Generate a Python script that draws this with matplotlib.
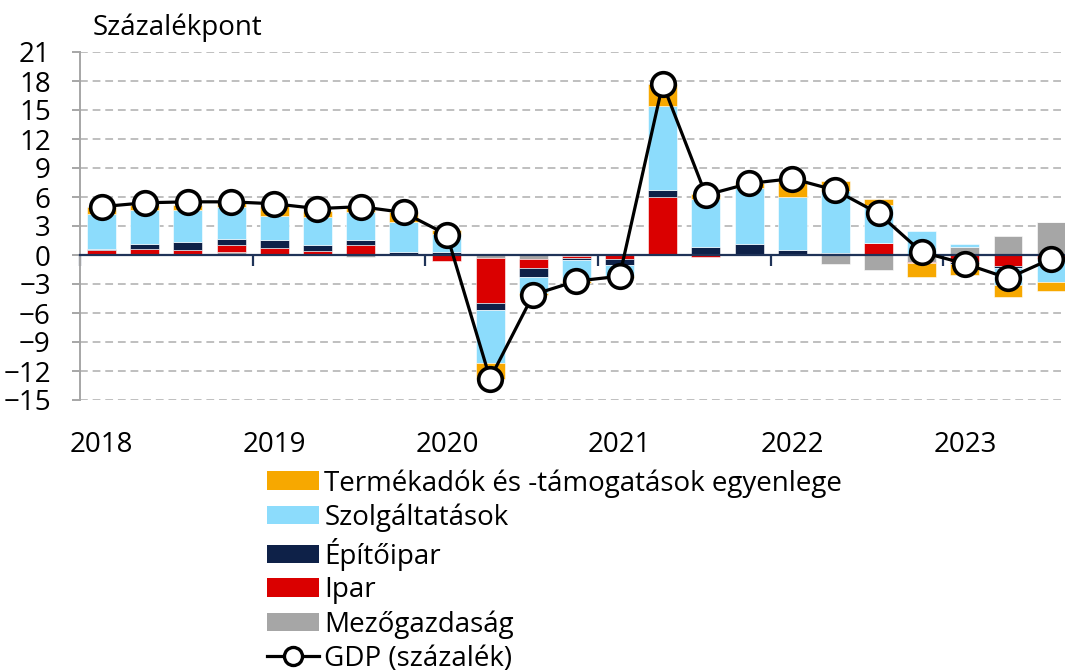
import numpy as np
import matplotlib.pyplot as plt
from matplotlib.patches import Patch
from matplotlib.lines import Line2D

plt.rcParams['font.family'] = ['Open Sans', 'DejaVu Sans']

# quarterly data, 2018 Q1 - 2023 Q3 (percentage point contributions)
years = ['2018', '2019', '2020', '2021', '2022', '2023']
agri = [0.0, 0.1, 0.1, 0.3, 0.0, 0.0, -0.25, 0.0, 0.0, -0.3, -0.4, -0.15,
        0.0, 0.0, 0.0, 0.0, 0.0, -0.9, -1.55, -0.7, 0.8, 1.95, 3.4]
industry = [0.5, 0.55, 0.45, 0.75, 0.75, 0.4, 1.05, 0.15, -0.6, -4.65, -0.95, -0.15,
            -0.4, 6.0, -0.2, 0.0, 0.15, 0.25, 1.2, -0.1, -0.75, -1.1, -0.4]
construction = [0.15, 0.45, 0.8, 0.6, 0.8, 0.65, 0.5, 0.2, 0.3, -0.7, -0.95, -0.2,
                -0.6, 0.75, 0.8, 1.1, 0.4, 0.0, 0.0, 0.0, -0.15, -0.25, 0.0]
services = [3.6, 3.55, 3.35, 3.3, 2.5, 2.85, 2.85, 3.1, 1.85, -5.5, -1.6, -2.15,
            -1.15, 8.65, 5.0, 5.85, 5.4, 6.4, 4.0, 2.45, 0.3, -1.8, -2.35]
taxes = [0.7, 0.5, 0.5, 0.5, 1.05, 0.7, 0.6, 0.95, 0.45, -1.7, -0.25, -0.25,
         -0.25, 2.3, 0.5, 0.5, 1.85, 1.05, 0.6, -1.5, -1.2, -1.15, -1.0]
gdp = [5.0, 5.4, 5.5, 5.5, 5.3, 4.8, 5.0, 4.4, 2.1, -12.8, -4.1, -2.7,
       -2.2, 17.7, 6.2, 7.4, 7.9, 6.7, 4.3, 0.3, -0.9, -2.4, -0.4]

series = [
    ('Mezőgazdaság', agri, '#A6A6A6'),
    ('Ipar', industry, '#DA0000'),
    ('Építőipar', construction, '#0E2148'),
    ('Szolgáltatások', services, '#8CDCFC'),
    ('Termékadók és -támogatások egyenlege', taxes, '#F7A800'),
]

x = np.arange(len(gdp))
fs = 20

fig = plt.figure(figsize=(10.65, 6.72), dpi=100)
ax = fig.add_axes([80 / 1065, 1 - 400 / 672, 985 / 1065, 348 / 672])

# stacked bars, positives upward and negatives downward from zero
pos_bottom = np.zeros(len(x))
neg_bottom = np.zeros(len(x))
for name, vals, color in series:
    v = np.array(vals)
    bottom = np.where(v >= 0, pos_bottom, neg_bottom)
    ax.bar(x, v, 0.67, bottom=bottom, color=color, edgecolor='white',
           linewidth=0.4, zorder=2)
    pos_bottom += np.where(v >= 0, v, 0)
    neg_bottom += np.where(v < 0, v, 0)

ax.plot(x, gdp, color='black', linewidth=2.3, marker='o', markersize=17,
        markerfacecolor='white', markeredgecolor='black', markeredgewidth=2.6,
        zorder=4)

ax.set_xlim(-0.5, 22.32)
ax.set_ylim(-15, 21)
ax.set_yticks(np.arange(-15, 22, 3))
ax.yaxis.grid(True, color='#BFBFBF', linestyle=(0, (4, 2.5)), linewidth=1.4, zorder=0)
ax.tick_params(axis='y', length=6, width=1.4, color='#A6A6A6', pad=15, labelsize=fs)

for s in ['top', 'right']:
    ax.spines[s].set_visible(False)
ax.spines['left'].set_color('#A6A6A6')
ax.spines['left'].set_linewidth(1.4)
ax.spines['bottom'].set_position(('data', 0))
ax.spines['bottom'].set_color('#1F3358')
ax.spines['bottom'].set_linewidth(1.6)
ax.spines['bottom'].set_zorder(3)

# year boundaries as ticks on the zero line
ax.set_xticks(np.arange(-0.5, 23, 4))
ax.set_xticklabels([])
ax.tick_params(axis='x', length=8, width=1.6, color='#1F3358', direction='out')

# year labels below the plot
sec = ax.secondary_xaxis(0.0)
sec.set_xticks(np.arange(0, 23, 4))
sec.set_xticklabels(years)
sec.tick_params(length=0, pad=22, labelsize=fs)
sec.spines['bottom'].set_visible(False)

fig.text(93 / 1065, 1 - 28 / 672, 'Százalékpont', fontsize=fs, va='center', ha='left')

handles = [Patch(facecolor=c) for _, _, c in reversed(series)]
labels = [n for n, _, _ in reversed(series)]
handles.append(Line2D([], [], color='black', linewidth=2.3, marker='o', markersize=13,
                      markerfacecolor='white', markeredgecolor='black',
                      markeredgewidth=2.4))
labels.append('GDP (százalék)')
fig.legend(handles, labels, loc='upper left', bbox_to_anchor=(267 / 1065, 1 - 469 / 672),
           frameon=False, fontsize=fs, handlelength=1.87, handleheight=0.65,
           handletextpad=0.2, labelspacing=0.21, borderpad=0, borderaxespad=0)

fig.savefig('out.png', dpi=100)
